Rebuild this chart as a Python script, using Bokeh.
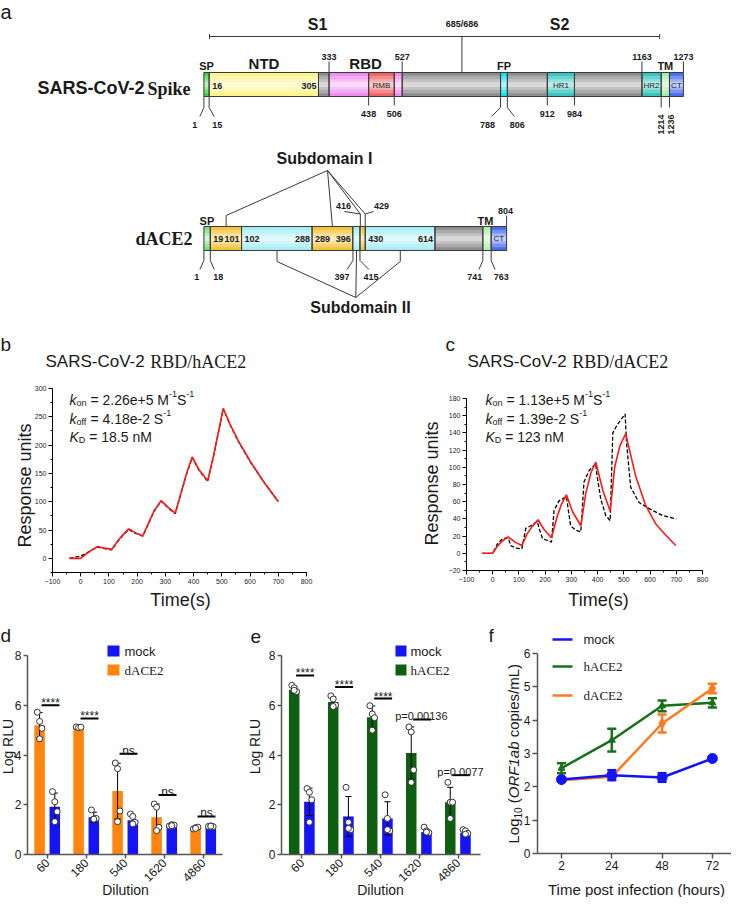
import math
from bokeh.plotting import figure
from bokeh.models import Range1d, Label, BoxAnnotation, FixedTicker
from bokeh.layouts import column, row
from bokeh.core.properties import value
from bokeh.embed import file_html
from bokeh.resources import INLINE

SANS = "Liberation Sans"
SERIF = "Liberation Serif"
INK = "#1a1a1a"

# ======================= DATA =======================
# --- panel a: domain boundaries (residue numbers) ---
SPIKE_BOUNDS = [1, 15, 305, 333, 438, 506, 527, 788, 806, 912, 984, 1163, 1214, 1236, 1273]
SPIKE_COLORS = ["#3fd23f", "#fff38a", "#8e8e8e", "#f08cf0", "#ee6464", "#f08cf0", "#8e8e8e",
                "#12e2ea", "#8e8e8e", "#36c4bc", "#8e8e8e", "#36c4bc", "#a6eca6", "#4a6cf2"]
SPIKE_TOP_NUMS = [333, 527, 1163, 1273]
SPIKE_BOTTOM_NUMS = [438, 506, 912, 984]
SPIKE_SPLAY_NUMS = [1, 15, 788, 806]
SPIKE_ROT_NUMS = [1214, 1236]
SPIKE_CLEAVAGE = 685.5
S1S2_SPAN = [16, 1210]

DACE2_BOUNDS = [1, 18, 101, 288, 396, 415, 429, 614, 741, 763, 804]
DACE2_COLORS = ["#7be07b", "#f6c33c", "#a6eef6", "#f6c33c", "#a6eef6", "#f6c33c", "#a6eef6",
                "#8e8e8e", "#b2f0b2", "#4a6cf2"]
DACE2_SPLAY = [(1, "1"), (18, "18"), (396.5, "397"), (415, "415"), (741, "741"), (763, "763")]
SUB1_TARGETS = [60, 342, 416, 429]
SUB2_TARGETS = [195, 406, 522]

# --- panel b: SPR, RBD / hACE2 ---
B_T_FIT = [-40, 0, 20, 40, 60, 85, 110, 130, 150, 170, 195, 220, 240, 260, 285, 310, 335, 355,
           375, 395, 420, 450, 470, 490, 505, 530, 560, 600, 650, 700]
B_FIT = [0, 0, 8, 15, 21, 18, 16, 30, 42, 52, 45, 40, 62, 84, 102, 90, 80, 115, 150, 179, 156,
         137, 180, 228, 265, 236, 206, 172, 134, 100]
B_DATA = [0, 4, 9, 15, 20, 17, 15, 29, 41, 51, 44, 39, 61, 83, 101, 89, 79, 114, 149, 178, 155,
          136, 179, 227, 264, 235, 205, 171, 134, 101]

# --- panel c: SPR, RBD / dACE2 ---
C_T_FIT = [-40, 0, 15, 35, 59, 85, 111, 130, 150, 173, 195, 224, 245, 262, 281, 305, 336, 355,
           375, 393, 420, 448, 465, 485, 507, 545, 583, 622, 660, 698]
C_FIT = [0, 0, 7, 14, 19, 13, 9, 22, 31, 39, 28, 18, 42, 57, 68, 48, 32, 70, 94, 106, 73, 49,
         100, 125, 139, 90, 56, 34, 21, 9]
C_T_DATA = [-40, 0, 18, 37, 59, 69, 88, 111, 126, 145, 170, 178, 190, 224, 234, 253, 281, 286,
            297, 316, 336, 348, 367, 393, 398, 412, 431, 448, 458, 476, 505, 510, 526, 558, 609,
            647, 700]
C_DATA = [0, 0, 11, 17, 18, 9, 6, 5, 29, 32, 37, 28, 17, 13, 50, 61, 66, 55, 32, 27, 25, 83, 96,
          104, 90, 63, 44, 38, 140, 150, 162, 130, 77, 59, 50, 44, 40]

# --- panels d / e: pseudovirus entry ---
DILUTIONS = ["60", "180", "540", "1620", "4860"]
D_DACE2_MEAN = [5.20, 5.10, 2.55, 1.50, 1.05]
D_DACE2_SD = [0.50, 0.03, 1.12, 0.53, 0.03]
D_DACE2_PTS = [[5.72, 5.35, 5.07, 4.65], [5.13, 5.10, 5.12], [3.68, 3.45, 1.75, 1.32],
               [2.03, 1.90, 1.09, 0.96], [1.03, 1.08, 1.10, 1.05]]
D_MOCK_MEAN = [1.92, 1.50, 1.38, 1.12, 1.12]
D_MOCK_SD = [0.55, 0.20, 0.17, 0.04, 0.02]
D_MOCK_PTS = [[2.53, 2.12, 1.72, 1.32], [1.79, 1.43, 1.45, 1.42], [1.63, 1.53, 1.29, 1.23],
              [1.15, 1.20, 1.18, 1.16], [1.13, 1.15, 1.12, 1.14]]
D_SIG = ["****", "****", "ns", "ns", "ns"]
D_SIG_Y = [6.0, 5.47, 4.05, 2.39, 1.53]

E_HACE2_MEAN = [6.62, 6.13, 5.52, 4.08, 2.10]
E_HACE2_SD = [0.13, 0.20, 0.45, 1.05, 0.60]
E_HACE2_PTS = [[6.80, 6.70, 6.55, 6.60], [6.38, 6.25, 6.00, 5.95], [5.98, 5.65, 5.50, 5.00],
               [5.13, 4.93, 3.40, 2.90], [2.90, 2.10, 2.10, 1.45]]
E_MOCK_MEAN = [2.12, 1.53, 1.45, 0.90, 0.87]
E_MOCK_SD = [0.55, 0.80, 0.67, 0.10, 0.08]
E_MOCK_PTS = [[2.65, 2.50, 2.20, 1.30], [2.70, 1.30, 1.00, 1.05], [2.40, 1.45, 0.95, 1.00],
              [1.10, 0.95, 0.88, 0.90], [1.00, 0.95, 0.85, 0.82]]
E_SIG = ["****", "****", "****", "p=0.00136", "p=0.0077"]
E_SIG_Y = [7.2, 6.73, 6.27, 5.43, 3.19]

# --- panel f: viral RNA ---
F_TIMES = ["2", "24", "48", "72"]
F_MOCK = [2.22, 2.35, 2.28, 2.85]
F_MOCK_ERR = [0.03, 0.15, 0.13, 0.03]
F_HACE2 = [2.56, 3.40, 4.43, 4.52]
F_HACE2_ERR = [0.15, 0.34, 0.16, 0.14]
F_DACE2 = [2.20, 2.30, 3.90, 4.95]
F_DACE2_ERR = [0.03, 0.05, 0.27, 0.14]

# ======================= HELPERS =======================
W = {' ': 278, '(': 333, ')': 333, '*': 389, '+': 584, '-': 333, '.': 278, '/': 278, '=': 584,
     'A': 667, 'B': 667, 'C': 722, 'D': 722, 'E': 667, 'F': 611, 'K': 667, 'L': 556, 'M': 833,
     'O': 778, 'R': 722, 'S': 667, 'V': 667, 'a': 556, 'b': 556, 'c': 500, 'e': 556, 'f': 278,
     'g': 556, 'i': 222, 'k': 500, 'm': 833, 'n': 556, 'o': 556, 'p': 556, 's': 500}


def tw(s, size):
    return sum(W.get(ch, 556) for ch in s) * size / 1000.0


def new_fig(w, h, xr, yr):
    p = figure(width=w, height=h, x_range=xr, y_range=yr, output_backend="svg",
               toolbar_location=None, min_border=0)
    p.outline_line_color = None
    p.grid.visible = False
    p.background_fill_color = "white"
    p.border_fill_color = "white"
    return p


def style_axes(p, color, width, size, tick_out=4):
    for ax in p.axis:
        ax.axis_line_color = color
        ax.axis_line_width = width
        ax.major_tick_line_color = color
        ax.major_tick_line_width = width
        ax.minor_tick_line_color = color
        ax.major_tick_in = 0
        ax.major_tick_out = tick_out
        ax.minor_tick_in = 0
        ax.minor_tick_out = 2
        ax.major_label_text_font = SANS
        ax.major_label_text_font_size = f"{size}px"
        ax.major_label_text_color = INK
        ax.major_label_standoff = 2


class Pan:
    """Places annotations by page pixel position inside a figure whose frame is the whole figure."""

    def __init__(self, fig, fl, fb):
        self.f, self.fl, self.fb = fig, fl, fb

    def label(self, px, py, text, size, font=SANS, style="normal", align="left",
              baseline="middle", angle=0.0, color=INK):
        self.f.add_layout(Label(x=px - self.fl, y=self.fb - py, x_units="screen",
                                y_units="screen", text=text, text_font=font,
                                text_font_size=f"{size}px", text_font_style=style,
                                text_align=align, text_baseline=baseline, angle=angle,
                                text_color=color))

    def box(self, x0, y0, x1, y1, color):
        self.f.add_layout(BoxAnnotation(left=x0 - self.fl, right=x1 - self.fl,
                                        top=self.fb - y0, bottom=self.fb - y1,
                                        left_units="screen", right_units="screen",
                                        top_units="screen", bottom_units="screen",
                                        fill_color=color, fill_alpha=1.0, line_color=None))

    def rich(self, px, py, parts, vertical=False):
        pos = 0.0
        for text, size, style, shift in parts:
            body = text.lstrip(" ")
            pos += tw(text[:len(text) - len(body)], size)
            if vertical:
                self.label(px + shift, py - pos, body, size, style=style,
                           baseline="alphabetic", angle=math.pi / 2)
            else:
                self.label(px + pos, py + shift, body, size, style=style,
                           baseline="alphabetic")
            pos += tw(body, size)


def panel_fig(x0, y0, w, h, box, dom):
    """Figure covering page rect (x0, y0, w, h); axes box at page 'box' shows data domain 'dom'."""
    l, r, t, b = box
    dx0, dx1, dy0, dy1 = dom
    ux = (dx1 - dx0) / (r - l)
    uy = (dy1 - dy0) / (b - t)
    xr = Range1d(dx0 - (l - x0) * ux, dx1 + (x0 + w - r) * ux)
    yr = Range1d(dy0 - (y0 + h - b) * uy, dy1 + (t - y0) * uy)
    p = new_fig(w, h, xr, yr)
    p.xaxis.fixed_location = dy0
    p.xaxis.bounds = (dx0, dx1)
    p.yaxis.fixed_location = dx0
    p.yaxis.bounds = (dy0, dy1)
    return p, Pan(p, x0, y0 + h)


# ======================= PANEL a =======================
PXR = 0.377          # page pixels per residue
X0 = 211.0           # page x of residue 0


def rx(px):
    return (px - X0) / PXR


pa = new_fig(731, 332, Range1d(rx(8), rx(739)), Range1d(340, 8))
pa.axis.visible = False
LC = "#3a3a3a"


def ta(x, y, txt, size, bold=True, align="center", font=SANS, angle=0.0, baseline="middle"):
    pa.text(x=[x], y=[y], text=[txt], text_font=value(font), text_font_size=value(f"{size}px"),
            text_font_style=value("bold" if bold else "normal"), text_align=value(align),
            text_baseline=value(baseline), angle=angle, text_color=INK)


def draw_bar(bounds, colors, ytop, ybot):
    left = bounds[:-1]
    right = bounds[1:]
    n = len(left)
    h = ybot - ytop
    pa.quad(left=left, right=right, top=[ytop] * n, bottom=[ybot] * n, fill_color=colors,
            line_color=None)
    for frac, alpha in [(0.14, 0.25), (0.28, 0.3), (0.4, 0.35)]:
        pa.quad(left=left, right=right, top=[ytop + frac * h] * n, bottom=[ybot - frac * h] * n,
                fill_color="white", fill_alpha=alpha, line_color=None)
    pa.quad(left=left, right=right, top=[ytop] * n, bottom=[ybot] * n, fill_color=None,
            line_color=LC, line_width=1)


def seg(x0, y0, x1, y1):
    pa.segment(x0=[x0], y0=[y0], x1=[x1], y1=[y1], line_color=LC, line_width=1)


ta(rx(8), 8, "a", 20, bold=False, align="left", baseline="top")

# ---- spike ----
SY0, SY1 = 80, 104
draw_bar(SPIKE_BOUNDS, SPIKE_COLORS, SY0, SY1)
seg(S1S2_SPAN[0], 44, S1S2_SPAN[1], 44)
for b in S1S2_SPAN:
    seg(b, 41.5, b, 46.5)
seg(SPIKE_CLEAVAGE, 44, SPIKE_CLEAVAGE, SY0)
ta(SPIKE_CLEAVAGE, 31, "685/686", 9)
ta(rx(325), 32, "S1", 16)
ta(rx(567), 32, "S2", 16)
for r in SPIKE_TOP_NUMS:
    seg(r, 69, r, SY0)
    ta(r, 64, str(r), 9)
ta(8, 73, "SP", 11)
ta((16 + 305) / 2, 71, "NTD", 15)
ta((333 + 527) / 2, 71, "RBD", 15)
ta(797, 73, "FP", 11)
ta(1225, 73, "TM", 11)
ta(SPIKE_BOUNDS[1] + 3 / PXR, 93, "16", 9, align="left")
ta(SPIKE_BOUNDS[2] - 2 / PXR, 93, "305", 9, align="right")
ta((438 + 506) / 2, 93, "RMB", 8, bold=False)
ta((912 + 984) / 2, 93, "HR1", 8, bold=False)
ta((1163 + 1214) / 2, 93, "HR2", 8, bold=False)
ta((1236 + 1273) / 2, 93, "CT", 8, bold=False)
for r in SPIKE_BOTTOM_NUMS:
    seg(r, SY1, r, 113)
    ta(r, 121, str(r), 9)
for r, dx, off in zip(SPIKE_SPLAY_NUMS, [-4, 5, -9, 7], [-9, 8, -13, 10]):
    seg(r, SY1, r, 115)
    seg(r, 115, r + dx / PXR, 124)
    ta(r + off / PXR, 132, str(r), 9)
for r, off in zip(SPIKE_ROT_NUMS, [0, 2]):
    seg(r, SY1, r, 115)
    ta(r + off / PXR, 132, str(r), 9, angle=math.pi / 2)
ta(rx(45), 95, "SARS-CoV-2", 18, align="left")
ta(rx(198), 96, "Spike", 18, align="right", font=SERIF)

# ---- dACE2 ----
DY0, DY1 = 234, 258
draw_bar(DACE2_BOUNDS, DACE2_COLORS, DY0, DY1)
ta(rx(200), 246, "dACE2", 18, align="right", font=SERIF)
ta(9, 228, "SP", 11)
ta(rx(493), 228, "TM", 11)
seg(804, 223, 804, DY0)
ta(801, 218, "804", 9)
ta(18 + 3 / PXR, 246, "19", 9, align="left")
ta(101 - 2 / PXR, 246, "101", 9, align="right")
ta(101 + 3 / PXR, 246, "102", 9, align="left")
ta(288 - 2 / PXR, 246, "288", 9, align="right")
ta(288 + 3 / PXR, 246, "289", 9, align="left")
ta(396 - 2 / PXR, 246, "396", 9, align="right")
ta(429 + 3 / PXR, 246, "430", 9, align="left")
ta(614 - 2 / PXR, 246, "614", 9, align="right")
ta((763 + 804) / 2, 246, "CT", 8, bold=False)
seg(416, DY0, 416, 221.5)
seg(416, 221.5, rx(352), 219)
ta(rx(351), 213, "416", 9)
seg(429, DY0, 429, 221.5)
seg(429, 221.5, rx(381), 219)
ta(rx(389), 213, "429", 9)
for (r, t), dx, off in zip(DACE2_SPLAY, [-4, 4, -6, 9, -4, 4], [-7, 8, -11, 11, -8, 10]):
    seg(r, DY1, r, 268)
    seg(r, 268, r + dx / PXR, 277)
    ta(r + off / PXR, 284, t, 9)
A1 = (rx(335), 178)
seg(A1[0], A1[1], SUB1_TARGETS[0], 223)
seg(SUB1_TARGETS[0], 223, SUB1_TARGETS[0], DY0)
seg(A1[0], A1[1], SUB1_TARGETS[1], DY0)
seg(A1[0], A1[1], SUB1_TARGETS[2], 221.5)
seg(A1[0], A1[1], SUB1_TARGETS[3], 221.5)
ta(rx(332), 166, "Subdomain I", 16)
A2 = (rx(363.3), 305)
seg(SUB2_TARGETS[0], DY1, SUB2_TARGETS[0], 269)
seg(SUB2_TARGETS[0], 269, A2[0], A2[1])
seg(SUB2_TARGETS[1], DY1, A2[0], A2[1])
seg(SUB2_TARGETS[2], DY1, SUB2_TARGETS[2], 269)
seg(SUB2_TARGETS[2], 269, A2[0], A2[1])
ta(rx(368), 315, "Subdomain II", 16)

# ======================= PANEL b =======================
pb, PB = panel_fig(8, 340, 362, 280, (60, 314, 396, 580), (-100, 800, -25, 300))
style_axes(pb, "black", 1, 7)
pb.xaxis.ticker = FixedTicker(ticks=list(range(-100, 801, 100)),
                              minor_ticks=list(range(-100, 801, 50)))
pb.yaxis.ticker = FixedTicker(ticks=list(range(0, 301, 50)),
                              minor_ticks=list(range(-25, 301, 25)))
pb.line(B_T_FIT, B_DATA, line_color="black", line_dash="4 2", line_width=1.3)
pb.line(B_T_FIT, B_FIT, line_color="#ff1a1a", line_width=1.6)
PB.label(8, 352, "b", 19)
PB.label(53, 369, "SARS-CoV-2", 17, baseline="alphabetic")
PB.label(53 + tw("SARS-CoV-2 ", 17), 369, "RBD/hACE2", 18, font=SERIF, baseline="alphabetic")
PB.label(32, 493, "Response units", 18, align="center", angle=math.pi / 2)
PB.label(188, 607, "Time(s)", 18, align="center")
PB.rich(77, 407, [("k", 14, "italic", 0), ("on", 9, "normal", 3), (" = 2.26e+5 M", 14, "normal", 0),
                  ("-1", 9, "normal", -6), ("S", 14, "normal", 0), ("-1", 9, "normal", -6)])
PB.rich(77, 426, [("k", 14, "italic", 0), ("off", 9, "normal", 3), (" = 4.18e-2 S", 14, "normal", 0),
                  ("-1", 9, "normal", -6)])
PB.rich(77, 444, [("K", 14, "italic", 0), ("D", 9, "normal", 3), (" = 18.5 nM", 14, "normal", 0)])

# ======================= PANEL c =======================
pc, PC = panel_fig(370, 340, 369, 280, (474, 710, 406, 578), (-100, 800, -20, 180))
style_axes(pc, "black", 1, 7)
pc.xaxis.ticker = FixedTicker(ticks=list(range(-100, 801, 100)),
                              minor_ticks=list(range(-100, 801, 50)))
pc.yaxis.ticker = FixedTicker(ticks=list(range(-20, 181, 20)),
                              minor_ticks=list(range(-20, 181, 10)))
pc.line(C_T_DATA, C_DATA, line_color="black", line_dash="4 2", line_width=1.3)
pc.line(C_T_FIT, C_FIT, line_color="#ff1a1a", line_width=1.6)
PC.label(453, 352, "c", 19)
PC.label(475, 369, "SARS-CoV-2", 17, baseline="alphabetic")
PC.label(475 + tw("SARS-CoV-2 ", 17), 369, "RBD/dACE2", 18, font=SERIF, baseline="alphabetic")
PC.label(439, 491, "Response units", 18, align="center", angle=math.pi / 2)
PC.label(606, 607, "Time(s)", 18, align="center")
PC.rich(493, 407, [("k", 14, "italic", 0), ("on", 9, "normal", 3), (" = 1.13e+5 M", 14, "normal", 0),
                   ("-1", 9, "normal", -6), ("S", 14, "normal", 0), ("-1", 9, "normal", -6)])
PC.rich(493, 426, [("k", 14, "italic", 0), ("off", 9, "normal", 3), (" = 1.39e-2 S", 14, "normal", 0),
                   ("-1", 9, "normal", -6)])
PC.rich(493, 444, [("K", 14, "italic", 0), ("D", 9, "normal", 3), (" = 123 nM", 14, "normal", 0)])


# ======================= PANELS d / e =======================
def bar_panel(x0, w, box, dom, mean_a, sd_a, pts_a, col_a, mean_b, sd_b, pts_b, col_b, sig, sig_y):
    p, P = panel_fig(x0, 620, w, 285, box, dom)
    style_axes(p, "#555555", 1.5, 12)
    p.yaxis.ticker = FixedTicker(ticks=[0, 2, 4, 6, 8])
    p.xaxis.ticker = FixedTicker(ticks=list(range(len(DILUTIONS))))
    p.xaxis.major_label_overrides = {i: d for i, d in enumerate(DILUTIONS)}
    p.xaxis.major_label_orientation = math.pi / 4
    n = len(DILUTIONS)
    xa = [i - 0.2 for i in range(n)]
    xb = [i + 0.19 for i in range(n)]
    p.vbar(x=xa, top=mean_a, width=0.27, fill_color=col_a, line_color=None)
    p.vbar(x=xb, top=mean_b, width=0.27, fill_color=col_b, line_color=None)
    for xs, m, s in [(xa, mean_a, sd_a), (xb, mean_b, sd_b)]:
        lo = [mm - ss for mm, ss in zip(m, s)]
        hi = [mm + ss for mm, ss in zip(m, s)]
        p.segment(x0=xs, y0=lo, x1=xs, y1=hi, line_color="black", line_width=1)
        p.segment(x0=[x - 0.08 for x in xs], y0=hi, x1=[x + 0.08 for x in xs], y1=hi,
                  line_color="black", line_width=1)
        p.segment(x0=[x - 0.08 for x in xs], y0=lo, x1=[x + 0.08 for x in xs], y1=lo,
                  line_color="black", line_width=1)
    for xs, pts in [(xa, pts_a), (xb, pts_b)]:
        px_, py_ = [], []
        for x, grp in zip(xs, pts):
            jit = [-0.06, 0.0, 0.06, 0.0][:len(grp)]
            for j, v in zip(jit, grp):
                px_.append(x + j)
                py_.append(v)
        p.scatter(px_, py_, size=6, marker="circle", fill_color="white", line_color="#333333",
                  line_width=1)
    for i, (s, y) in enumerate(zip(sig, sig_y)):
        p.segment(x0=[i - 0.15], y0=[y], x1=[i + 0.31], y1=[y], line_color="black", line_width=2)
        if s == "****":
            size, dx, off = "12px", 0.08, -2
        elif s == "ns":
            size, dx, off = "12px", 0.08, -3
        else:
            size, dx, off = "11px", 0.06, -3
        p.text(x=[i + dx], y=[y], text=[s], text_font=value(SANS), text_font_size=value(size),
               text_align=value("center"), text_baseline=value("alphabetic"), y_offset=off,
               text_color=INK)
    return p, P


BLUE = "#1414f5"
ORANGE = "#ff8410"
DGREEN = "#0f5f12"

pd_, PD = bar_panel(8, 237, (35, 230, 663, 862), (-0.51, 4.49, 0, 8), D_DACE2_MEAN, D_DACE2_SD,
                    D_DACE2_PTS, ORANGE, D_MOCK_MEAN, D_MOCK_SD, D_MOCK_PTS, BLUE, D_SIG, D_SIG_Y)
PD.label(8, 643, "d", 19)
PD.label(15, 754, "Log RLU", 14, align="center", angle=math.pi / 2)
PD.label(133, 897, "Dilution", 14, align="center")
PD.box(115, 653, 127, 664, BLUE)
PD.label(132, 658.5, "mock", 13)
PD.box(115, 672, 127, 683, ORANGE)
PD.label(132, 677.5, "dACE2", 13, font=SERIF)

pe, PE = bar_panel(245, 252, (289, 488, 663, 862), (-0.525, 4.575, 0, 8), E_HACE2_MEAN, E_HACE2_SD,
                   E_HACE2_PTS, DGREEN, E_MOCK_MEAN, E_MOCK_SD, E_MOCK_PTS, BLUE, E_SIG, E_SIG_Y)
PE.label(258, 644, "e", 19)
PE.label(262, 754, "Log RLU", 14, align="center", angle=math.pi / 2)
PE.label(388, 897, "Dilution", 14, align="center")
PE.box(403, 653, 414, 664, BLUE)
PE.label(418, 658.5, "mock", 13)
PE.box(403, 672, 414, 683, DGREEN)
PE.label(418, 677.5, "hACE2", 13, font=SERIF)

# ======================= PANEL f =======================
pf, PF = panel_fig(497, 620, 242, 285, (545, 739, 661, 861), (-0.477, 3.38, 0, 6))
style_axes(pf, "#555555", 1.5, 12, tick_out=5)
pf.yaxis.ticker = FixedTicker(ticks=[0, 1, 2, 3, 4, 5, 6])
pf.xaxis.ticker = FixedTicker(ticks=list(range(len(F_TIMES))))
pf.xaxis.major_label_overrides = {i: t for i, t in enumerate(F_TIMES)}
FX = list(range(len(F_TIMES)))
FGREEN = "#17701a"
FORANGE = "#ff7a1f"
for ys, es, col, mk, sz in [(F_HACE2, F_HACE2_ERR, FGREEN, "triangle", 7),
                            (F_DACE2, F_DACE2_ERR, FORANGE, "diamond", 10),
                            (F_MOCK, F_MOCK_ERR, BLUE, "circle", 10)]:
    pf.line(FX, ys, line_color=col, line_width=2.5)
    lo = [y - e for y, e in zip(ys, es)]
    hi = [y + e for y, e in zip(ys, es)]
    pf.segment(x0=FX, y0=lo, x1=FX, y1=hi, line_color=col, line_width=2.5)
    pf.segment(x0=[x - 0.09 for x in FX], y0=hi, x1=[x + 0.09 for x in FX], y1=hi, line_color=col,
               line_width=2.5)
    pf.segment(x0=[x - 0.09 for x in FX], y0=lo, x1=[x + 0.09 for x in FX], y1=lo, line_color=col,
               line_width=2.5)
    pf.scatter(FX, ys, marker=mk, size=sz, fill_color=col, line_color=col)
PF.label(496, 643, "f", 19)
PF.label(644, 897, "Time post infection (hours)", 15, align="center")
PF.rich(521, 851, [("Log", 15, "normal", 0), ("10", 10, "normal", 4), (" (", 15, "normal", 0),
                   ("ORF1ab", 15, "italic", 0), (" copies/mL)", 15, "normal", 0)], vertical=True)
PF.box(560, 645.75, 580, 648.25, BLUE)
PF.label(591, 647, "mock", 13)
PF.box(560, 672.75, 580, 675.25, FGREEN)
PF.label(591, 674, "hACE2", 13, font=SERIF)
PF.box(560, 701.75, 580, 704.25, FORANGE)
PF.label(591, 703, "dACE2", 13, font=SERIF)

layout = column(pa, row(pb, pc), row(pd_, pe, pf))
open("out.html", "w").write(file_html(layout, INLINE))
